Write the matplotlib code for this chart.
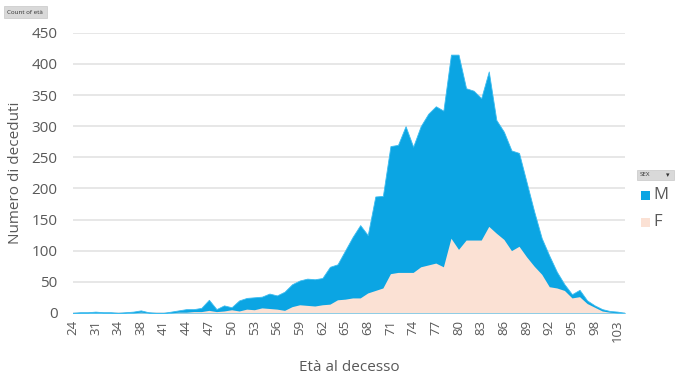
import numpy as np
import matplotlib
matplotlib.use("Agg")
import matplotlib.pyplot as plt
from matplotlib.patches import Rectangle

plt.rcParams['font.family'] = ['Open Sans', 'DejaVu Sans']

# categorie dell'asse x (età presenti nei dati)
ages = [24, 27, 29, 31, 32, 33, 34, 35, 37, 38, 39, 40, 41, 42, 43] + list(range(44, 101)) + [103, 104]

deaths_m = [0, 1, 1, 2, 1, 1, 0, 1, 2, 4, 1, 0, 0, 2, 4,
            6, 6, 8, 21, 6, 12, 9, 20, 24, 25, 26, 31, 28, 34, 46,
            52, 55, 54, 56, 74, 78, 100, 122, 141, 125, 187, 188, 268, 270, 300,
            267, 300, 320, 332, 325, 415, 415, 361, 357, 345, 388, 310, 291, 261, 257,
            210, 163, 120, 92, 66, 46, 30, 37, 20, 12, 6, 3, 2, 0]

deaths_f = [0, 0, 0, 0, 0, 0, 0, 0, 0, 1, 0, 0, 0, 0, 1,
            1, 2, 2, 4, 2, 3, 5, 3, 6, 5, 8, 7, 6, 4, 10,
            13, 12, 11, 13, 14, 21, 22, 24, 24, 32, 36, 40, 63, 65, 65,
            65, 74, 77, 80, 74, 120, 102, 117, 117, 117, 139, 128, 118, 100, 107,
            90, 75, 62, 42, 40, 36, 24, 26, 15, 9, 3, 1, 0, 0]

yticks = [0, 50, 100, 150, 200, 250, 300, 350, 400, 450]

blue = "#0ba5e3"
peach = "#fbe1d4"
grey_txt = "#595959"

fig = plt.figure(figsize=(6.8, 3.82), dpi=100)
ax = fig.add_axes([0.107, 0.181, 0.812, 0.733])

x = np.arange(len(ages))
ax.fill_between(x, deaths_m, color=blue, linewidth=0.6, edgecolor="#3cbcf0", zorder=2)
ax.fill_between(x, deaths_f, color=peach, linewidth=0, zorder=3)

ax.set_xlim(0, len(ages) - 1)
ax.set_ylim(0, 450)
ax.set_yticks(yticks)
ax.grid(axis="y", color="#e3e3e3", linewidth=1.2, zorder=0)
ax.set_axisbelow(True)

ax.set_xticks(x[::3])
ax.set_xticklabels([str(a) for a in ages[::3]], rotation=90, fontsize=9.5, color=grey_txt)
ax.tick_params(axis="y", labelsize=11, colors=grey_txt, length=0, pad=11)
ax.tick_params(axis="x", length=0, pad=5)
for s in ax.spines.values():
    s.set_visible(False)

ax.set_ylabel("Numero di deceduti", fontsize=11, color=grey_txt, labelpad=6)
ax.set_xlabel("Età al decesso", fontsize=11, color=grey_txt, labelpad=13)

# pulsante pivot in alto a sinistra
fig.patches.append(Rectangle((4 / 680, 1 - 18 / 382), 43 / 680, 12 / 382,
                             transform=fig.transFigure, facecolor="#d9d9d9", edgecolor="#c8c8c8", lw=0.5))
fig.text(25 / 680, 1 - 12 / 382, "Count of età", fontsize=4.5, ha="center", va="center", color="#333333")

# legenda con filtro SEX
fig.patches.append(Rectangle((637 / 680, 1 - 180 / 382), 37 / 680, 10 / 382,
                             transform=fig.transFigure, facecolor="#d9d9d9", edgecolor="#c8c8c8", lw=0.5))
fig.text(640 / 680, 1 - 175 / 382, "SEX", fontsize=4.5, ha="left", va="center", color="#333333")
fig.text(668 / 680, 1 - 175 / 382, "▾", fontsize=5, ha="center", va="center", color="#333333",
         family=['DejaVu Sans'])
fig.patches.append(Rectangle((641 / 680, 1 - 200 / 382), 9 / 680, 9 / 382,
                             transform=fig.transFigure, facecolor=blue, edgecolor="none"))
fig.text(653 / 680, 1 - 195 / 382, "M", fontsize=12, ha="left", va="center", color=grey_txt)
fig.patches.append(Rectangle((641 / 680, 1 - 227 / 382), 9 / 680, 9 / 382,
                             transform=fig.transFigure, facecolor=peach, edgecolor="none"))
fig.text(653 / 680, 1 - 222 / 382, "F", fontsize=12, ha="left", va="center", color=grey_txt)

fig.savefig("out.png", dpi=100, facecolor="white")
